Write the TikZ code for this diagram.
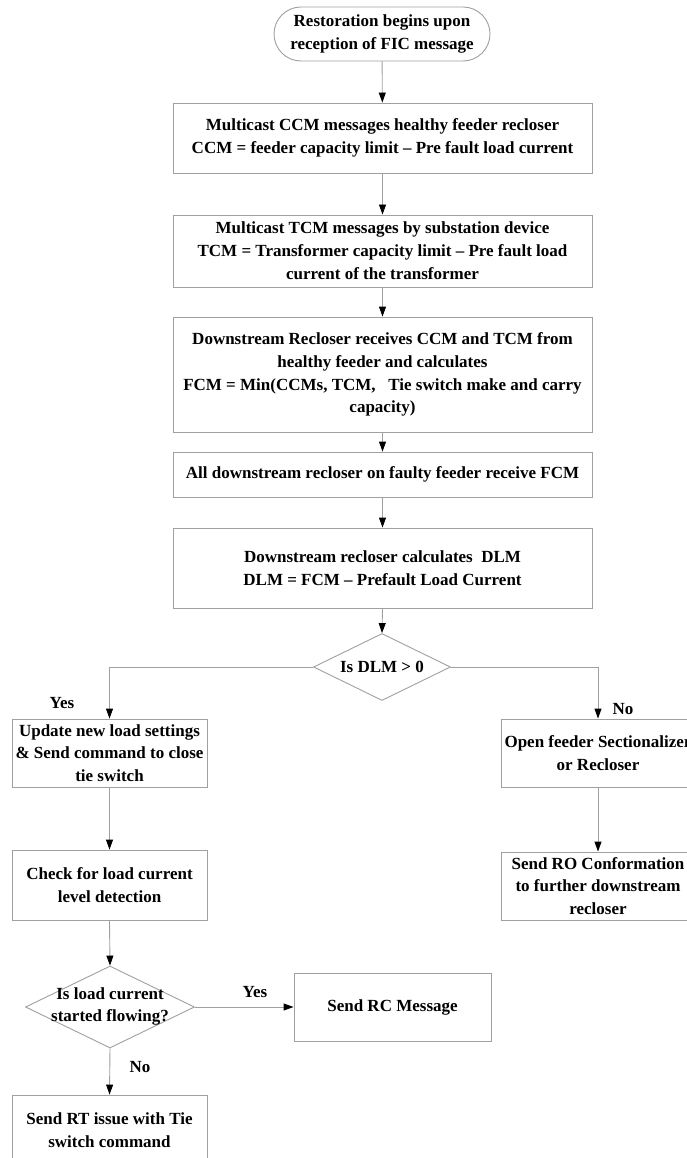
\documentclass[tikz,border=0pt]{standalone}
\usepackage{fontspec}
\setmainfont{Liberation Serif}
\usetikzlibrary{arrows.meta,shapes.geometric}
\definecolor{edgegray}{RGB}{160,160,160}
\begin{document}
\begin{tikzpicture}[x=1pt,y=-1pt,
  every node/.style={font=\fontsize{17}{22.8}\selectfont\bfseries, text=black, align=center, inner sep=0pt},
  box/.style={draw=edgegray, line width=0.9pt, rectangle, fill=white},
  term/.style={draw=edgegray, line width=0.9pt, rectangle, rounded corners=27pt},
  dia/.style={draw=edgegray, line width=0.9pt, diamond, aspect=2},
  conn/.style={draw=edgegray, line width=0.9pt, -{Triangle[length=10pt,width=7pt,fill=black,color=black]}},
  lbl/.style={font=\fontsize{17}{20}\selectfont\bfseries}
]
\clip (0,0) rectangle (687,1158);
\fill[white] (0,0) rectangle (687,1158);

\node[term, minimum width=216pt, minimum height=54pt] (start) at (382,34) {Restoration begins upon\\reception of FIC message};
\node[box, minimum width=419pt, minimum height=70pt] (b1) at (382.5,138) {Multicast CCM messages healthy feeder recloser\\CCM = feeder capacity limit -- Pre fault load current};
\node[box, minimum width=419pt, minimum height=72pt] (b2) at (382.5,251) {Multicast TCM messages by substation device\\TCM = Transformer capacity limit -- Pre fault load\\current of the transformer};
\node[box, minimum width=419pt, minimum height=115pt] (b3) at (382.5,374.5) {Downstream Recloser receives CCM and TCM from\\healthy feeder and calculates\\FCM = Min(CCMs, TCM,\ \ \ Tie switch make and carry\\capacity)};
\node[box, minimum width=419pt, minimum height=45pt] (b4) at (382.5,474.5) {All downstream recloser on faulty feeder receive FCM};
\node[box, minimum width=419pt, minimum height=80pt] (b5) at (382.5,568) {Downstream recloser calculates\ \ DLM\\DLM = FCM -- Prefault Load Current};

\node[dia, minimum width=137pt, minimum height=67pt] (d1) at (382,667) {};
\node (d1t) at (d1.center) {Is DLM > 0};

\node[box, minimum width=195pt, minimum height=68pt] (upd) at (109.5,753) {Update new load settings\\\& Send command to close\\tie switch};
\node[box, minimum width=194pt, minimum height=68pt] (open) at (598,753) {Open feeder Sectionalizer\\or Recloser};
\node[box, minimum width=195pt, minimum height=70pt] (chk) at (109.5,885) {Check for load current\\level detection};
\node[box, minimum width=194pt, minimum height=68pt] (ro) at (598,886) {Send RO Conformation\\to further downstream\\recloser};

\node[dia, minimum width=169pt, minimum height=82pt] (d2) at (110,1007) {};
\node (d2t) at (110,1006.5) {Is load current\\started flowing?};
\node[box, minimum width=197pt, minimum height=68pt] (rc) at (392.5,1007) {Send RC Message};
\node[box, minimum width=195pt, minimum height=70pt] (rt) at (109.5,1130) {Send RT issue with Tie\\switch command};

\draw[conn] (start) -- (b1);
\draw[conn] (b1) -- (b2);
\draw[conn] (b2) -- (b3);
\draw[conn] (b3) -- (b4);
\draw[conn] (b4) -- (b5);
\draw[conn] (b5.south) -- (d1.north);
\draw[conn] (d1.west) -| (upd.north);
\draw[conn] (d1.east) -| (open.north);
\draw[conn] (upd) -- (chk);
\draw[conn] (open) -- (ro);
\draw[conn] (chk.south) -- (d2.north);
\draw[conn] (d2.east) -- (rc.west);
\draw[conn] (d2.south) -- (rt.north);

\node[lbl] (yes1) at (62,703) {Yes};
\node[lbl] (no1) at (623,709) {No};
\node[lbl] (yes2) at (255,992) {Yes};
\node[lbl] (no2) at (140,1067) {No};
\end{tikzpicture}
\end{document}
